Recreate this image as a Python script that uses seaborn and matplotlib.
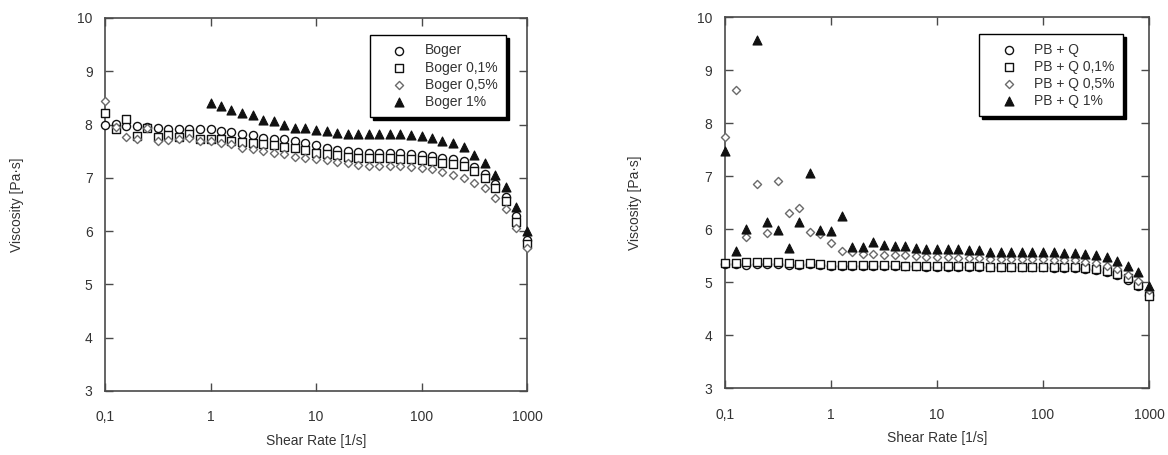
import numpy as np
import pandas as pd
import seaborn as sns
import matplotlib.pyplot as plt

# ── data ──────────────────────────────────────────────────────────────────
shear = [0.1, 0.126, 0.158, 0.2, 0.251, 0.316, 0.398, 0.501, 0.631, 0.794,
         1, 1.26, 1.58, 2, 2.51, 3.16, 3.98, 5.01, 6.31, 7.94,
         10, 12.6, 15.8, 20, 25.1, 31.6, 39.8, 50.1, 63.1, 79.4,
         100, 126, 158, 200, 251, 316, 398, 501, 631, 794, 1000]

boger = [8.00, 8.01, 7.97, 7.97, 7.95, 7.94, 7.92, 7.91, 7.91, 7.91,
         7.91, 7.88, 7.86, 7.82, 7.80, 7.75, 7.73, 7.72, 7.69, 7.66,
         7.61, 7.56, 7.52, 7.50, 7.49, 7.47, 7.46, 7.46, 7.46, 7.44,
         7.42, 7.41, 7.38, 7.35, 7.31, 7.20, 7.07, 6.89, 6.64, 6.28, 5.83]
boger_01 = [8.21, 7.91, 8.11, 7.79, 7.93, 7.77, 7.80, 7.77, 7.82, 7.73,
            7.72, 7.72, 7.69, 7.68, 7.66, 7.63, 7.61, 7.58, 7.56, 7.53,
            7.47, 7.45, 7.42, 7.40, 7.38, 7.38, 7.37, 7.37, 7.36, 7.35,
            7.33, 7.31, 7.28, 7.26, 7.22, 7.13, 6.99, 6.80, 6.56, 6.18, 5.75]
boger_05 = [8.45, 7.95, 7.77, 7.72, 7.93, 7.69, 7.71, 7.73, 7.75, 7.70,
            7.70, 7.66, 7.63, 7.56, 7.55, 7.50, 7.47, 7.44, 7.40, 7.38,
            7.35, 7.33, 7.30, 7.28, 7.25, 7.22, 7.22, 7.22, 7.22, 7.21,
            7.19, 7.16, 7.11, 7.05, 6.99, 6.90, 6.80, 6.62, 6.42, 6.05, 5.68]
# Boger 1% starts at 1 1/s
boger_1 = [8.40, 8.34, 8.27, 8.21, 8.17, 8.08, 8.07, 7.99, 7.94, 7.93,
           7.90, 7.87, 7.84, 7.83, 7.82, 7.82, 7.82, 7.82, 7.82, 7.81,
           7.78, 7.75, 7.70, 7.65, 7.58, 7.43, 7.28, 7.06, 6.82, 6.46, 6.00]

pbq = [5.34, 5.35, 5.33, 5.34, 5.34, 5.34, 5.33, 5.33, 5.34, 5.32,
       5.31, 5.31, 5.31, 5.31, 5.31, 5.30, 5.30, 5.30, 5.30, 5.29,
       5.29, 5.29, 5.29, 5.29, 5.28, 5.28, 5.28, 5.28, 5.28, 5.28,
       5.28, 5.27, 5.27, 5.27, 5.25, 5.23, 5.20, 5.14, 5.05, 4.92, 4.76]
pbq_01 = [5.36, 5.37, 5.38, 5.39, 5.39, 5.39, 5.36, 5.35, 5.36, 5.35,
          5.33, 5.33, 5.33, 5.32, 5.32, 5.32, 5.32, 5.31, 5.31, 5.31,
          5.30, 5.30, 5.30, 5.30, 5.30, 5.29, 5.29, 5.29, 5.29, 5.29,
          5.29, 5.28, 5.28, 5.28, 5.26, 5.24, 5.21, 5.15, 5.07, 4.94, 4.74]
pbq_05 = [7.74, 8.62, 5.85, 6.86, 5.93, 6.91, 6.31, 6.40, 5.95, 5.90,
          5.73, 5.59, 5.57, 5.54, 5.54, 5.51, 5.52, 5.51, 5.49, 5.48,
          5.47, 5.47, 5.46, 5.46, 5.45, 5.44, 5.44, 5.44, 5.43, 5.43,
          5.43, 5.42, 5.42, 5.41, 5.39, 5.36, 5.31, 5.24, 5.14, 5.02, 4.85]
pbq_1 = [7.48, 5.59, 6.01, 9.58, 6.14, 5.99, 5.65, 6.14, 7.06, 5.98,
         5.97, 6.25, 5.67, 5.67, 5.75, 5.70, 5.69, 5.69, 5.64, 5.62,
         5.63, 5.62, 5.62, 5.61, 5.60, 5.57, 5.57, 5.56, 5.56, 5.56,
         5.56, 5.56, 5.55, 5.55, 5.53, 5.51, 5.48, 5.40, 5.31, 5.20, 4.93]

x_ticks = [0.1, 1, 10, 100, 1000]
x_ticklabels = ["0,1", "1", "10", "100", "1000"]
y_ticks = [3, 4, 5, 6, 7, 8, 9, 10]

# ── styles ───────────────────────────────────────────────────────────────
sns.set_style("ticks")
plt.rcParams["font.family"] = ["Liberation Sans", "DejaVu Sans"]
plt.rcParams["font.size"] = 10

txt = "#333333"
spine_c = "#4a4a4a"

marker_styles = [
    dict(marker="o", s=34, facecolor="white", edgecolor="#111111", linewidth=1.0),
    dict(marker="s", s=30, facecolor="white", edgecolor="#111111", linewidth=1.0),
    dict(marker="D", s=17, facecolor="white", edgecolor="#6a6a6a", linewidth=1.0),
    dict(marker="^", s=42, facecolor="#111111", edgecolor="#111111", linewidth=0.8),
]

fig = plt.figure(figsize=(11.68, 4.55), dpi=100)
ax1 = fig.add_axes([0.0899, 0.1407, 0.3613, 0.8198])
ax2 = fig.add_axes([0.6207, 0.147, 0.363, 0.815])

left_series = [
    ("Boger", shear, boger),
    ("Boger 0,1%", shear, boger_01),
    ("Boger 0,5%", shear, boger_05),
    ("Boger 1%", shear[10:], boger_1),
]
right_series = [
    ("PB + Q", shear, pbq),
    ("PB + Q 0,1%", shear, pbq_01),
    ("PB + Q 0,5%", shear, pbq_05),
    ("PB + Q 1%", shear, pbq_1),
]


def draw_panel(ax, series, legend_anchor, ylab_x):
    for (lbl, xs, ys), st in zip(series, marker_styles):
        df = pd.DataFrame({"shear": xs, "visc": ys})
        sns.scatterplot(data=df, x="shear", y="visc", ax=ax, label=lbl,
                        clip_on=False, zorder=3, **st)
    ax.set_xscale("log")
    ax.set_xlim(0.1, 1000)
    ax.set_ylim(3, 10)
    ax.set_xticks(x_ticks)
    ax.set_xticklabels(x_ticklabels)
    ax.set_yticks(y_ticks)
    ax.minorticks_off()
    ax.tick_params(axis="both", direction="in", top=True, right=True,
                   length=6, width=1, color=spine_c, labelsize=10,
                   labelcolor=txt)
    ax.tick_params(axis="x", pad=14)
    ax.tick_params(axis="y", pad=9)
    for sp in ax.spines.values():
        sp.set_visible(True)
        sp.set_color(spine_c)
        sp.set_linewidth(1.2)
    ax.set_xlabel("Shear Rate [1/s]", fontsize=10, color=txt)
    ax.set_ylabel("Viscosity [Pa·s]", fontsize=10, color=txt)
    ax.xaxis.set_label_coords(0.5, -0.115)
    ax.yaxis.set_label_coords(ylab_x, 0.5)
    leg = ax.legend(loc="upper right", bbox_to_anchor=legend_anchor,
                    frameon=True, fancybox=False,
                    shadow={"color": "black", "alpha": 1},
                    edgecolor="black", framealpha=1, fontsize=10,
                    borderpad=0.6, labelspacing=0.22, handlelength=3.0,
                    handletextpad=0.35, borderaxespad=0)
    leg.get_frame().set_linewidth(1.0)
    for t in leg.get_texts():
        t.set_color(txt)


draw_panel(ax1, left_series, (0.95, 0.954), -0.192)
draw_panel(ax2, right_series, (0.939, 0.954), -0.195)

fig.savefig("out.png", dpi=100)
